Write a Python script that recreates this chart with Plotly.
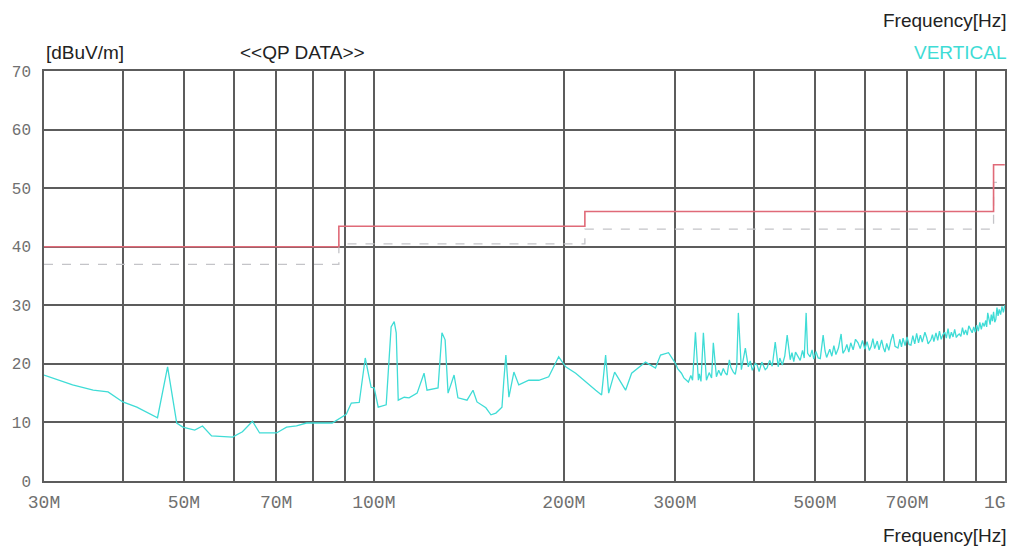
import plotly.graph_objects as go

# Measured quasi-peak spectrum, vertical polarisation (frequency in MHz, level in dBuV/m)
freq_mhz = [
    30.0, 33.3, 35.9, 37.9, 40.0, 42.1, 45.4, 47.1, 48.7, 49.8,
    52.0, 53.5, 55.3, 59.7, 61.9, 64.2, 65.9, 70.1, 72.7, 75.4,
    78.2, 82.0, 85.9, 90.4, 92.1, 94.8, 96.9, 99.0, 100.1, 101.6,
    104.6, 106.5, 107.7, 108.5, 109.3, 111.7, 113.7, 117.1, 120.1, 121.4,
    126.4, 128.2, 129.7, 131.1, 134.0, 135.9, 140.5, 143.6, 145.7, 150.5,
    153.3, 156.1, 159.6, 160.7, 161.9, 163.7, 166.7, 169.7, 176.0, 182.6,
    189.3, 196.3, 201.4, 208.9, 216.6, 224.7, 229.6, 233.0, 235.6, 240.8,
    250.6, 256.2, 269.5, 279.5, 284.7, 293.1, 300.6, 303.0, 307.3, 310.0,
    315.2, 318.0, 320.0, 323.4, 326.9, 328.0, 330.0, 332.9, 336.6, 340.0,
    343.0, 345.2, 349.1, 352.0, 355.0, 358.0, 360.7, 363.0, 366.0, 368.0,
    371.4, 374.0, 376.0, 378.2, 382.4, 388.0, 392.2, 395.0, 398.0, 402.4,
    405.0, 408.0, 412.0, 417.2, 420.0, 424.0, 428.0, 432.7, 437.4, 440.0,
    444.0, 448.0, 452.0, 457.0, 460.0, 463.0, 466.0, 470.4, 474.0, 478.0,
    481.0, 484.4, 487.0, 491.5, 495.0, 498.0, 502.0, 506.1, 510.0, 515.4,
    519.0, 522.0, 524.8, 528.0, 532.0, 536.0, 540.0, 545.0, 550.3, 554.0,
    558.4, 562.0, 566.0, 570.0, 575.0, 580.0, 585.4, 590.0, 595.0, 600.0,
    605.0, 610.0, 613.8, 618.0, 622.0, 628.0, 632.0, 638.0, 642.0, 645.8,
    650.0, 655.0, 660.0, 665.0, 670.0, 677.2, 682.0, 686.0, 690.0, 695.0,
    700.0, 705.0, 710.0, 715.0, 720.0, 725.0, 730.0, 735.0, 740.0, 747.2,
    752.0, 756.0, 763.7, 768.0, 772.0, 778.0, 783.0, 788.0, 793.0, 798.0,
    803.6, 808.0, 813.0, 818.0, 823.0, 828.0, 833.0, 838.0, 842.6, 847.0,
    852.0, 857.0, 862.0, 867.0, 872.0, 877.0, 883.3, 888.0, 893.0, 898.0,
    903.0, 908.0, 913.0, 918.0, 922.8, 928.0, 933.0, 936.0, 939.8, 944.0,
    948.0, 952.0, 956.0, 960.0, 964.1, 968.0, 972.0, 976.0, 980.0, 985.0,
    990.0, 995.0, 1000.0,
]
level_dbuv = [
    18.1, 16.4, 15.5, 15.2, 13.5, 12.6, 10.8, 19.5, 9.9, 9.2,
    8.7, 9.4, 7.7, 7.5, 8.4, 10.2, 8.2, 8.2, 9.2, 9.4,
    9.9, 9.9, 9.9, 11.4, 13.3, 13.4, 21.0, 16.0, 15.9, 12.6,
    13.0, 26.3, 27.2, 25.3, 13.8, 14.3, 14.2, 15.0, 18.4, 15.5,
    15.9, 25.3, 24.1, 15.0, 18.1, 14.2, 13.8, 15.5, 13.5, 12.5,
    11.3, 11.6, 12.6, 17.2, 21.5, 14.3, 18.6, 16.4, 17.2, 17.2,
    17.8, 21.2, 19.5, 18.4, 16.9, 15.5, 14.7, 21.5, 15.0, 18.6,
    15.5, 18.4, 20.3, 19.3, 21.5, 21.9, 20.1, 19.2, 18.4, 17.6,
    16.9, 18.0, 17.2, 25.4, 17.2, 18.3, 17.0, 25.3, 17.2, 18.5,
    17.6, 23.6, 17.8, 18.9, 18.0, 19.2, 18.4, 18.1, 20.7, 19.4,
    18.6, 18.2, 19.6, 28.7, 19.0, 22.7, 19.5, 20.5, 18.9, 20.1,
    19.8, 18.7, 20.3, 19.0, 19.3, 20.6, 19.6, 23.7, 19.5, 21.0,
    19.8, 21.3, 24.9, 20.7, 21.9, 20.4, 22.0, 21.2, 20.6, 22.3,
    21.0, 28.7, 21.8, 21.2, 22.4, 20.8, 22.1, 21.0, 20.9, 24.9,
    22.2, 21.1, 21.9, 22.5, 21.3, 23.1, 21.6, 22.7, 25.1, 21.8,
    22.4, 23.3, 22.0, 23.6, 22.4, 24.2, 23.6, 22.6, 24.0, 22.5,
    23.8, 22.3, 22.9, 24.3, 22.6, 23.9, 22.4, 24.1, 22.8, 22.0,
    23.5, 22.3, 24.0, 25.1, 23.0, 22.7, 24.2, 22.9, 24.4, 23.1,
    24.6, 23.3, 23.2, 24.8, 23.4, 25.2, 23.6, 24.9, 23.7, 25.4,
    24.5, 23.4, 24.1, 25.0, 23.8, 25.3, 24.0, 25.6, 24.2, 25.0,
    25.4, 24.4, 26.0, 24.3, 25.4, 24.6, 25.9, 24.5, 24.9, 25.1,
    24.7, 26.2, 25.0, 25.8, 24.9, 26.5, 25.8, 25.3, 26.3, 25.4,
    26.6, 25.6, 27.1, 25.9, 27.0, 26.4, 27.4, 26.3, 28.7, 27.5,
    26.7, 28.4, 27.3, 28.9, 27.1, 27.6, 29.6, 28.2, 29.3, 28.4,
    29.8, 28.8, 30.0,
]

# Class B limit and margin line (step edges in MHz)
limit_freq_mhz = [30, 88, 216, 960, 1000]
limit_dbuv = [40.0, 43.5, 46.0, 54.0, 54.0]
margin_dbuv = [37.0, 40.5, 43.0, 51.0, 51.0]

# Axis ticks / grid
grid_freq_mhz = [30, 40, 50, 60, 70, 80, 90, 100, 200, 300, 400, 500, 600, 700, 800, 900, 1000]
grid_freq_text = ["30M", "", "50M", "", "70M", "", "", "100M", "200M", "300M",
                  "", "500M", "", "700M", "", "", ""]
end_freq_text = "1G"
level_ticks = [0, 10, 20, 30, 40, 50, 60, 70]

GRID = "#5c5c5c"
CYAN = "#3fdcd6"
TICK_FONT_X = dict(family="Liberation Mono, Courier New, monospace", size=18, color="#707070")

fig = go.Figure()

fig.add_trace(go.Scatter(
    x=limit_freq_mhz, y=margin_dbuv, mode="lines", line_shape="hv",
    line=dict(color="#c4c4c8", width=1.3, dash="dash"), hoverinfo="skip",
))
fig.add_trace(go.Scatter(
    x=limit_freq_mhz, y=limit_dbuv, mode="lines", line_shape="hv",
    line=dict(color="#e06a78", width=1.6), hoverinfo="skip",
))
fig.add_trace(go.Scatter(
    x=freq_mhz, y=level_dbuv, mode="lines",
    line=dict(color=CYAN, width=1.3),
))

fig.update_layout(
    width=1013, height=548,
    margin=dict(l=44, r=6, t=71, b=67),
    paper_bgcolor="white", plot_bgcolor="white",
    showlegend=False,
    font=dict(family="Liberation Sans, Arial, sans-serif", color="#222222"),
)

fig.update_xaxes(
    type="log", range=[1.47712, 3.0004],
    tickmode="array", tickvals=grid_freq_mhz, ticktext=grid_freq_text,
    showgrid=True, gridcolor=GRID, gridwidth=1.5,
    showline=True, linecolor=GRID, linewidth=1.5, mirror=True,
    ticks="", ticklabelstandoff=4,
    tickfont=TICK_FONT_X,
    zeroline=False,
)
fig.update_yaxes(
    range=[0, 70],
    tickmode="array", tickvals=level_ticks,
    showgrid=True, gridcolor=GRID, gridwidth=1.5,
    showline=True, linecolor=GRID, linewidth=1.5, mirror=True,
    ticks="", ticklabelstandoff=8,
    tickfont=dict(family="Liberation Mono, Courier New, monospace", size=16, color="#707070"),
    zeroline=False,
)

# The last frequency label sits flush with the right edge of the axis
fig.add_annotation(text=end_freq_text, xref="paper", yref="paper", x=1.0, y=-0.053, xshift=3,
                   xanchor="right", yanchor="middle", showarrow=False, font=TICK_FONT_X)

label_font = dict(family="Liberation Sans, Arial, sans-serif", size=19, color="#222222")
fig.add_annotation(text="[dBuV/m]", xref="paper", yref="paper", x=0.0, y=1.046,
                   xanchor="left", yanchor="middle", showarrow=False, font=label_font)
fig.add_annotation(text="&lt;&lt;QP DATA&gt;&gt;", xref="paper", yref="paper", x=0.2015, y=1.046,
                   xanchor="left", yanchor="middle", showarrow=False, font=label_font)
fig.add_annotation(text="Frequency[Hz]", xref="paper", yref="paper", x=1.0, y=1.124, xshift=4,
                   xanchor="right", yanchor="middle", showarrow=False, font=label_font)
fig.add_annotation(text="VERTICAL", xref="paper", yref="paper", x=1.0, y=1.046, xshift=4,
                   xanchor="right", yanchor="middle", showarrow=False,
                   font=dict(family="Liberation Sans, Arial, sans-serif", size=19, color=CYAN))
fig.add_annotation(text="Frequency[Hz]", xref="paper", yref="paper", x=1.0, y=-0.132, xshift=4,
                   xanchor="right", yanchor="middle", showarrow=False, font=label_font)

fig.write_html("out.html", config={"displayModeBar": False})
